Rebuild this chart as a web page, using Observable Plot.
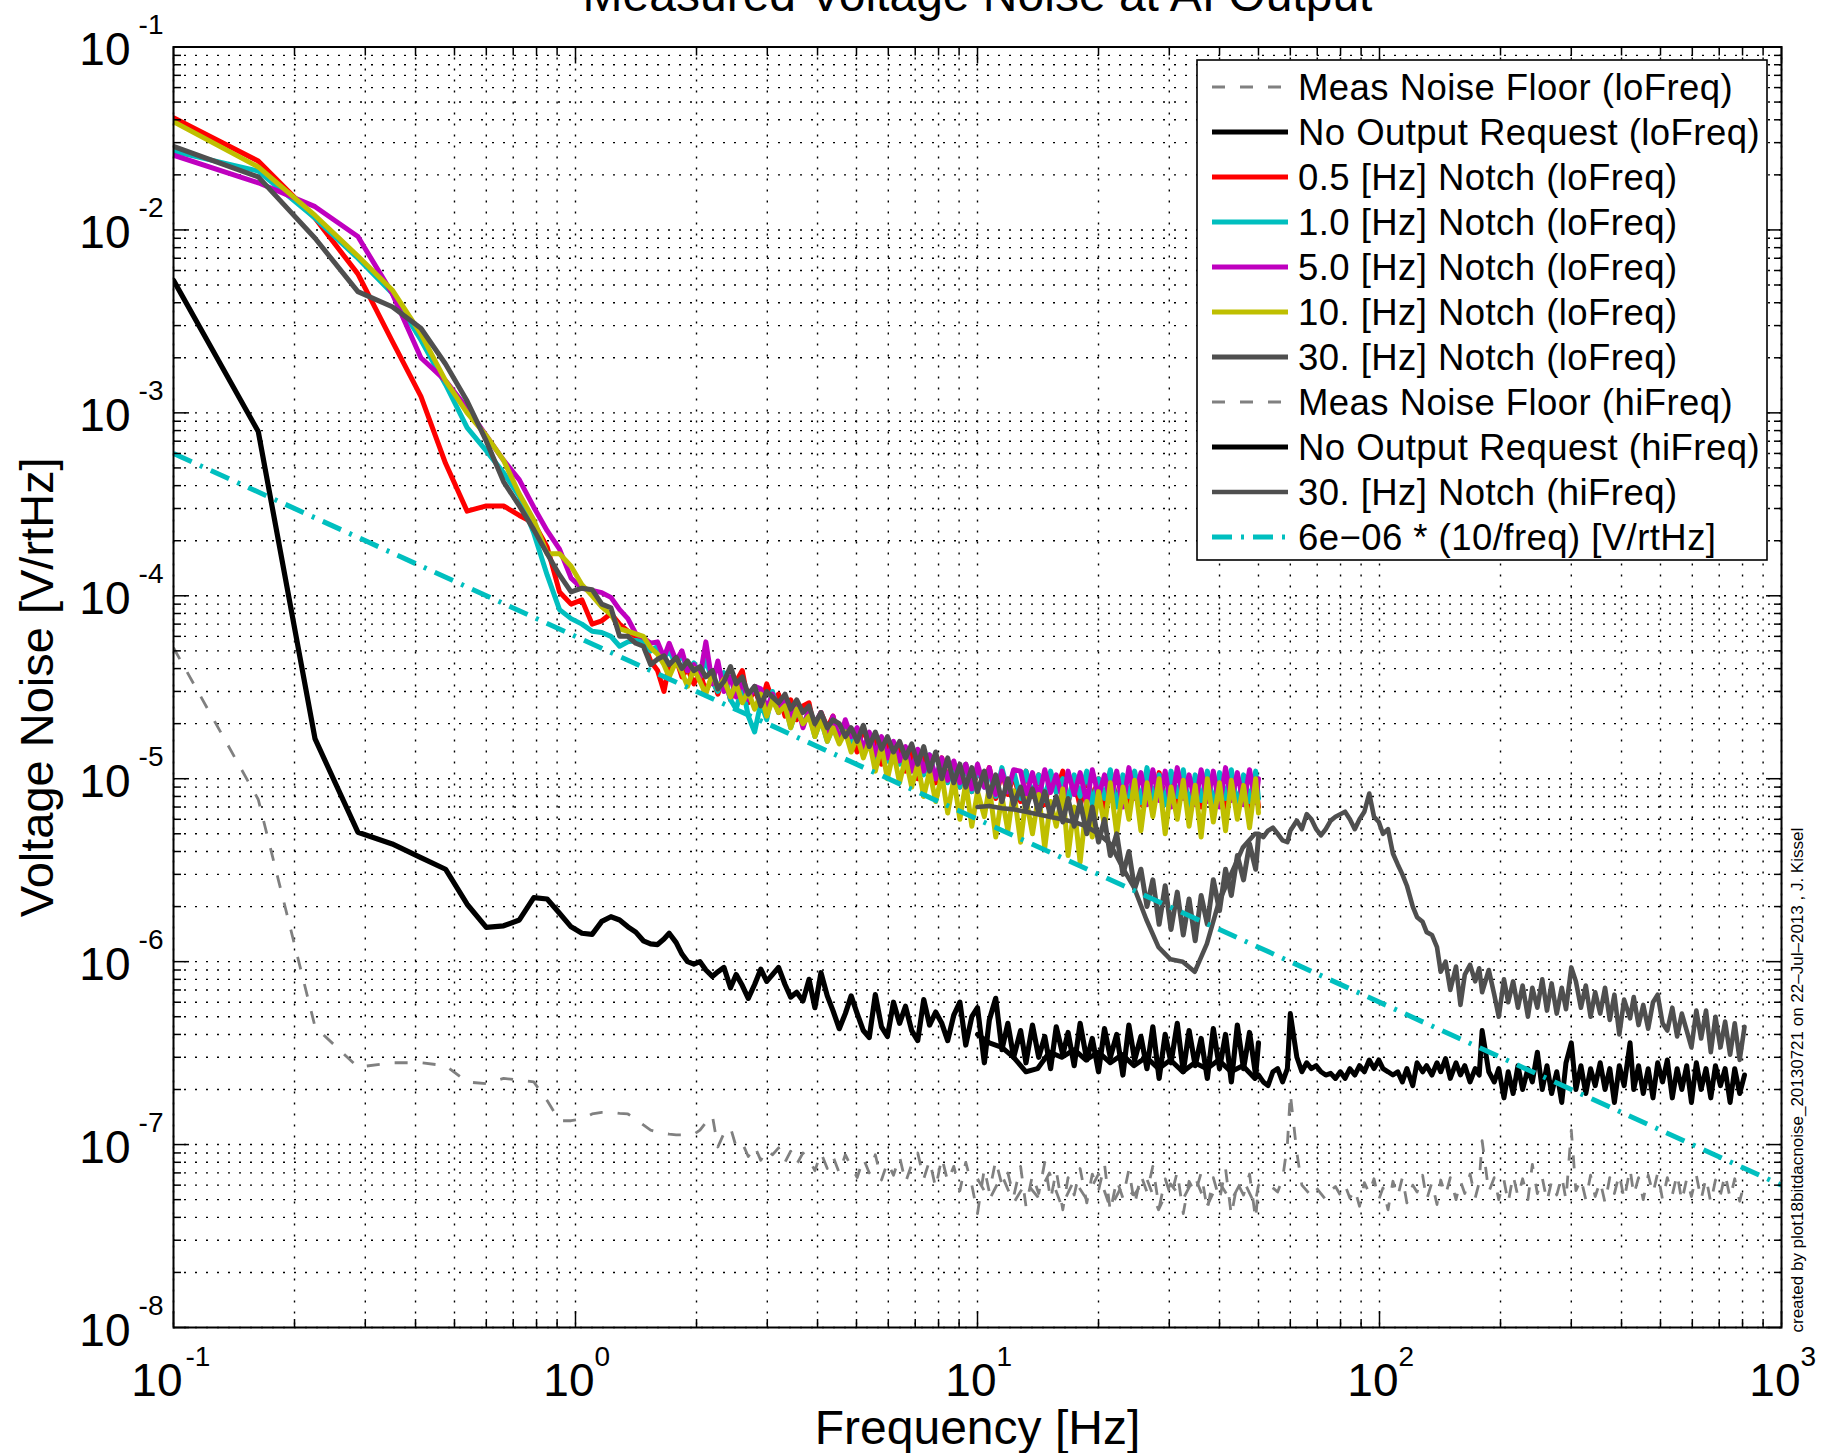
<!DOCTYPE html>
<html>
<head>
<meta charset="utf-8">
<script src="https://cdn.jsdelivr.net/npm/d3@7"></script>
<script src="https://cdn.jsdelivr.net/npm/@observablehq/plot@0.6"></script>
<style>
  html, body { margin: 0; padding: 0; background: #ffffff; }
</style>
</head>
<body>
<div id="chart"></div>
<script>
// ---------------- DATA ----------------
const freqLo = [0.1, 0.1625, 0.225, 0.2875, 0.35, 0.4125, 0.475, 0.5375, 0.6, 0.6625, 0.725, 0.7875, 0.85, 0.9125, 0.975, 1.0375, 1.1, 1.1625, 1.225, 1.2875, 1.35, 1.4125, 1.475, 1.5375,
  1.60, 1.66, 1.71, 1.78, 1.84, 1.90, 1.97, 2.04, 2.11, 2.19,
  2.26, 2.34, 2.43, 2.51, 2.60, 2.69, 2.79, 2.89, 2.99, 3.09,
  3.20, 3.32, 3.43, 3.55, 3.68, 3.81, 3.94, 4.08, 4.23, 4.37,
  4.53, 4.69, 4.85, 5.02, 5.20, 5.38, 5.57, 5.77, 5.97, 6.18,
  6.40, 6.62, 6.86, 7.10, 7.35, 7.60, 7.87, 8.15, 8.43, 8.73,
  9.04, 9.35, 9.68, 10.0, 10.4, 10.7, 11.1, 11.5, 11.9, 12.3,
  12.8, 13.2, 13.7, 14.2, 14.7, 15.2, 15.7, 16.3, 16.8, 17.4,
  18.0, 18.7, 19.3, 20.0, 20.7, 21.4, 22.2, 23.0, 23.8, 24.6,
  25.5, 26.4, 27.3, 28.3, 29.3, 30.3, 31.4, 32.5, 33.6, 34.8,
  36.0, 37.3, 38.6, 40.0, 41.4, 42.8, 44.3, 45.9, 47.5, 49.2, 50.0];

const floorLo = [5.2e-5, 7.7e-6, 4.4e-7, 2.65e-7, 2.8e-7, 2.8e-7, 2.7e-7, 2.2e-7, 2.15e-7, 2.3e-7, 2.25e-7, 2.2e-7, 1.74e-7, 1.35e-7, 1.35e-7, 1.38e-7, 1.47e-7, 1.5e-7, 1.5e-7, 1.48e-7, 1.47e-7, 1.38e-7, 1.28e-7, 1.2e-7,
  1.17e-7, 1.15e-7, 1.14e-7, 1.13e-7, 1.13e-7, 1.13e-7, 1.14e-7, 1.2e-7, 1.32e-7, 1.44e-7,
  9.7e-8, 1.15e-7, 1.24e-7, 9.7e-8, 1.02e-7, 8.6e-8, 9.8e-8, 8.2e-8, 9.4e-8, 8.8e-8,
  9.6e-8, 8.0e-8, 9.2e-8, 7.8e-8, 9.0e-8, 8.3e-8, 7.2e-8, 9.0e-8, 7.4e-8, 8.6e-8,
  7.0e-8, 8.8e-8, 7.6e-8, 6.6e-8, 8.4e-8, 7.0e-8, 8.8e-8, 6.4e-8, 8.0e-8, 6.8e-8,
  8.6e-8, 6.2e-8, 7.8e-8, 9.0e-8, 6.5e-8, 8.2e-8, 5.8e-8, 8.5e-8, 6.3e-8, 7.6e-8,
  5.6e-8, 8.0e-8, 6.0e-8, 4.2e-8, 7.4e-8, 5.5e-8, 8.2e-8, 6.0e-8, 7.0e-8, 5.2e-8,
  7.6e-8, 4.6e-8, 6.8e-8, 5.4e-8, 8.0e-8, 5.0e-8, 7.2e-8, 4.4e-8, 6.6e-8, 5.3e-8,
  7.4e-8, 4.8e-8, 6.9e-8, 5.6e-8, 7.8e-8, 4.3e-8, 6.4e-8, 5.1e-8, 7.3e-8, 4.7e-8,
  6.8e-8, 5.5e-8, 7.6e-8, 4.5e-8, 6.5e-8, 5.2e-8, 7.1e-8, 4.2e-8, 6.3e-8, 5.4e-8,
  7.0e-8, 4.4e-8, 6.6e-8, 5.0e-8, 7.4e-8, 4.1e-8, 6.2e-8, 5.3e-8, 6.9e-8, 3.9e-8, 6.0e-8];

const blackLo = [5.3e-3, 7.9e-4, 1.65e-5, 5.1e-6, 4.4e-6, 3.7e-6, 3.2e-6, 2.06e-6, 1.54e-6, 1.57e-6, 1.69e-6, 2.24e-6, 2.2e-6, 1.84e-6, 1.55e-6, 1.43e-6, 1.41e-6, 1.66e-6, 1.76e-6, 1.69e-6, 1.55e-6, 1.45e-6, 1.3e-6, 1.25e-6,
  1.24e-6, 1.33e-6, 1.43e-6, 1.27e-6, 1.1e-6, 1.0e-6, 9.7e-7, 1.0e-6, 9.0e-7, 8.3e-7,
  8.8e-7, 9.3e-7, 7.2e-7, 8.5e-7, 7.4e-7, 6.3e-7, 7.5e-7, 9.1e-7, 7.8e-7, 8.5e-7,
  9.3e-7, 7.5e-7, 6.4e-7, 6.8e-7, 6.1e-7, 8.0e-7, 5.6e-7, 8.7e-7, 6.5e-7, 5.4e-7,
  4.3e-7, 5.2e-7, 6.5e-7, 5.2e-7, 4.2e-7, 3.85e-7, 6.6e-7, 4.4e-7, 3.9e-7, 6.0e-7,
  4.6e-7, 5.7e-7, 4.2e-7, 3.7e-7, 6.2e-7, 4.5e-7, 5.3e-7, 4.6e-7, 3.7e-7, 5.1e-7,
  6.0e-7, 3.5e-7, 5.0e-7, 5.6e-7, 2.8e-7, 4.8e-7, 6.3e-7, 3.3e-7, 4.6e-7, 3.0e-7,
  4.2e-7, 2.8e-7, 4.5e-7, 3.0e-7, 3.9e-7, 2.6e-7, 4.4e-7, 3.1e-7, 4.1e-7, 2.7e-7,
  4.6e-7, 2.9e-7, 3.8e-7, 2.5e-7, 4.3e-7, 3.0e-7, 4.0e-7, 2.4e-7, 4.5e-7, 2.9e-7,
  3.9e-7, 2.6e-7, 4.4e-7, 2.3e-7, 4.0e-7, 2.8e-7, 4.6e-7, 2.5e-7, 4.2e-7, 2.7e-7,
  3.8e-7, 2.3e-7, 4.3e-7, 2.6e-7, 4.0e-7, 2.2e-7, 4.5e-7, 2.6e-7, 4.1e-7, 2.4e-7, 3.6e-7];

const notch05 = [4.1e-2, 2.38e-2, 1.16e-2, 5.75e-3, 2.47e-3, 1.23e-3, 5.3e-4, 2.9e-4, 3.1e-4, 3.1e-4, 2.75e-4, 2.5e-4, 1.85e-4, 1.05e-4, 9.0e-5, 9.5e-5, 7.0e-5, 7.3e-5, 8.0e-5, 7.0e-5, 6.4e-5, 6.0e-5, 5.6e-5, 4.4e-5,
  3.9e-5, 3.0e-5, 4.2e-5, 4.5e-5, 3.6e-5, 4.0e-5, 3.3e-5, 3.8e-5, 3.0e-5, 3.6e-5,
  2.9e-5, 3.7e-5, 2.7e-5, 3.4e-5, 3.9e-5, 2.6e-5, 3.1e-5, 2.5e-5, 3.3e-5, 2.7e-5,
  2.9e-5, 2.2e-5, 2.7e-5, 2.1e-5, 2.5e-5, 2.6e-5, 1.8e-5, 2.3e-5, 1.9e-5, 2.2e-5,
  1.6e-5, 2.0e-5, 1.7e-5, 1.4e-5, 1.9e-5, 1.5e-5, 1.7e-5, 1.2e-5, 1.6e-5, 1.35e-5,
  1.5e-5, 1.1e-5, 1.4e-5, 1.0e-5, 1.3e-5, 1.15e-5, 9.5e-6, 1.3e-5, 1.0e-5, 1.2e-5,
  9.0e-6, 1.2e-5, 8.5e-6, 1.1e-5, 9.5e-6, 1.15e-5, 7.8e-6, 1.1e-5, 8.2e-6, 1.05e-5,
  7.5e-6, 1.1e-5, 8.0e-6, 1.05e-5, 7.2e-6, 1.0e-5, 8.5e-6, 1.1e-5, 7.4e-6, 9.8e-6,
  7.0e-6, 1.05e-5, 7.8e-6, 1.0e-5, 6.8e-6, 1.1e-5, 7.6e-6, 9.5e-6, 6.5e-6, 1.05e-5,
  7.2e-6, 1.0e-5, 6.6e-6, 1.08e-5, 7.5e-6, 9.6e-6, 6.9e-6, 1.05e-5, 6.0e-6, 1.0e-5,
  7.0e-6, 1.08e-5, 6.4e-6, 9.8e-6, 6.6e-6, 1.05e-5, 7.2e-6, 1.0e-5, 6.5e-6, 9.5e-6, 7.0e-6];

const notch10 = [2.69e-2, 2.1e-2, 1.16e-2, 7.0e-3, 4.5e-3, 2.5e-3, 1.43e-3, 8.3e-4, 6.2e-4, 4.7e-4, 3.5e-4, 2.2e-4, 1.3e-4, 8.4e-5, 7.5e-5, 7.0e-5, 6.4e-5, 6.3e-5, 6.0e-5, 5.3e-5, 5.6e-5, 5.7e-5, 5.6e-5, 5.0e-5,
  5.3e-5, 4.6e-5, 5.0e-5, 4.2e-5, 4.8e-5, 3.9e-5, 4.3e-5, 3.6e-5, 4.5e-5, 3.4e-5,
  3.0e-5, 3.8e-5, 2.7e-5, 2.4e-5, 3.2e-5, 2.2e-5, 1.8e-5, 2.6e-5, 2.1e-5, 3.0e-5,
  2.3e-5, 2.6e-5, 1.9e-5, 2.4e-5, 2.0e-5, 2.3e-5, 1.7e-5, 2.1e-5, 1.6e-5, 1.9e-5,
  1.7e-5, 2.0e-5, 1.5e-5, 1.8e-5, 1.4e-5, 1.7e-5, 1.3e-5, 1.6e-5, 1.25e-5, 1.5e-5,
  1.2e-5, 1.45e-5, 1.1e-5, 1.4e-5, 1.05e-5, 1.35e-5, 1.0e-5, 1.25e-5, 9.5e-6, 1.2e-5,
  9.0e-6, 1.2e-5, 8.5e-6, 1.15e-5, 9.0e-6, 1.1e-5, 8.0e-6, 1.15e-5, 8.5e-6, 1.1e-5,
  7.8e-6, 1.1e-5, 8.2e-6, 1.05e-5, 7.6e-6, 1.1e-5, 8.4e-6, 1.0e-5, 7.4e-6, 1.05e-5,
  8.0e-6, 1.1e-5, 7.2e-6, 1.0e-5, 7.8e-6, 1.12e-5, 7.0e-6, 1.05e-5, 8.0e-6, 1.1e-5,
  7.4e-6, 1.15e-5, 7.8e-6, 1.05e-5, 7.2e-6, 1.1e-5, 8.0e-6, 1.12e-5, 7.0e-6, 1.05e-5,
  7.6e-6, 1.1e-5, 7.2e-6, 1.08e-5, 7.8e-6, 1.12e-5, 7.0e-6, 1.05e-5, 7.5e-6, 1.1e-5, 7.8e-6];

const notch50 = [2.56e-2, 1.81e-2, 1.34e-2, 9.2e-3, 4.5e-3, 2.0e-3, 1.5e-3, 1.06e-3, 7.5e-4, 5.5e-4, 4.3e-4, 3.05e-4, 2.27e-4, 1.8e-4, 1.25e-4, 1.1e-4, 1.07e-4, 1.04e-4, 9.8e-5, 8.4e-5, 7.5e-5, 6.2e-5, 5.9e-5, 5.5e-5,
  5.6e-5, 4.6e-5, 5.5e-5, 4.4e-5, 5.0e-5, 3.9e-5, 4.2e-5, 3.6e-5, 5.6e-5, 3.3e-5,
  4.4e-5, 3.0e-5, 3.6e-5, 2.8e-5, 3.4e-5, 2.7e-5, 3.2e-5, 3.1e-5, 2.4e-5, 2.9e-5,
  2.3e-5, 2.8e-5, 2.1e-5, 2.6e-5, 1.9e-5, 2.4e-5, 2.0e-5, 2.3e-5, 1.7e-5, 2.2e-5,
  1.6e-5, 2.1e-5, 1.7e-5, 1.9e-5, 1.45e-5, 1.8e-5, 1.35e-5, 1.7e-5, 1.3e-5, 1.6e-5,
  1.25e-5, 1.5e-5, 1.1e-5, 1.45e-5, 1.1e-5, 1.35e-5, 1.0e-5, 1.3e-5, 9.8e-6, 1.25e-5,
  9.5e-6, 1.2e-5, 8.8e-6, 1.2e-5, 9.0e-6, 1.15e-5, 8.2e-6, 1.1e-5, 8.5e-6, 1.12e-5,
  1.1e-5, 8.0e-6, 1.08e-5, 7.8e-6, 1.12e-5, 8.4e-6, 1.05e-5, 7.6e-6, 1.1e-5, 8.2e-6,
  1.08e-5, 7.4e-6, 1.12e-5, 8.0e-6, 1.05e-5, 7.6e-6, 1.1e-5, 7.0e-6, 1.15e-5, 7.8e-6,
  1.08e-5, 7.2e-6, 1.12e-5, 7.6e-6, 1.1e-5, 7.0e-6, 1.15e-5, 7.8e-6, 1.05e-5, 7.2e-6,
  1.12e-5, 7.5e-6, 1.1e-5, 7.0e-6, 1.15e-5, 7.6e-6, 1.08e-5, 7.2e-6, 1.12e-5, 7.4e-6, 1.0e-5];

const notch100 = [3.91e-2, 2.21e-2, 1.2e-2, 7.2e-3, 4.7e-3, 2.7e-3, 1.5e-3, 1.0e-3, 7.5e-4, 5.5e-4, 3.6e-4, 2.6e-4, 1.7e-4, 1.7e-4, 1.45e-4, 1.15e-4, 1.0e-4, 8.7e-5, 7.9e-5, 6.6e-5, 6.4e-5, 6.2e-5, 6.0e-5, 5.2e-5,
  4.8e-5, 4.2e-5, 3.6e-5, 4.4e-5, 3.8e-5, 3.2e-5, 4.0e-5, 3.4e-5, 2.9e-5, 3.8e-5,
  3.1e-5, 3.5e-5, 2.8e-5, 3.3e-5, 2.6e-5, 3.0e-5, 2.4e-5, 2.9e-5, 2.2e-5, 2.7e-5,
  2.3e-5, 2.5e-5, 1.9e-5, 2.4e-5, 2.0e-5, 2.2e-5, 1.7e-5, 2.1e-5, 1.6e-5, 1.9e-5,
  1.55e-5, 1.8e-5, 1.4e-5, 1.7e-5, 1.3e-5, 1.6e-5, 1.1e-5, 1.5e-5, 1.0e-5, 1.4e-5,
  9.5e-6, 1.3e-5, 9.0e-6, 1.2e-5, 8.0e-6, 1.1e-5, 7.5e-6, 1.05e-5, 6.5e-6, 1.0e-5,
  6.0e-6, 9.5e-6, 5.5e-6, 8.5e-6, 6.2e-6, 9.0e-6, 4.8e-6, 8.0e-6, 5.2e-6, 8.6e-6,
  4.5e-6, 7.8e-6, 5.0e-6, 8.2e-6, 4.2e-6, 7.5e-6, 5.5e-6, 8.8e-6, 3.8e-6, 7.0e-6,
  3.5e-6, 7.5e-6, 4.8e-6, 8.5e-6, 5.5e-6, 9.5e-6, 5.0e-6, 9.0e-6, 6.0e-6, 9.8e-6,
  5.2e-6, 9.5e-6, 6.2e-6, 1.0e-5, 5.0e-6, 9.0e-6, 6.0e-6, 9.8e-6, 5.5e-6, 9.2e-6,
  4.8e-6, 1.0e-5, 5.8e-6, 9.5e-6, 5.2e-6, 9.8e-6, 6.0e-6, 9.2e-6, 5.4e-6, 1.0e-5, 6.5e-6];

const notch300Lo = [2.86e-2, 1.95e-2, 9.0e-3, 4.6e-3, 3.8e-3, 2.9e-3, 1.85e-3, 1.16e-3, 7.0e-4, 4.2e-4, 3.1e-4, 2.3e-4, 1.7e-4, 1.3e-4, 1.05e-4, 1.1e-4, 1.08e-4, 9.0e-5, 8.6e-5, 6.0e-5, 6.0e-5, 5.5e-5, 5.3e-5, 4.2e-5,
  4.5e-5, 4.7e-5, 4.2e-5, 4.6e-5, 4.0e-5, 4.4e-5, 3.9e-5, 4.1e-5, 3.6e-5, 3.9e-5,
  3.1e-5, 3.4e-5, 4.1e-5, 3.3e-5, 3.6e-5, 2.9e-5, 3.2e-5, 2.5e-5, 3.0e-5, 2.8e-5,
  2.6e-5, 2.9e-5, 2.4e-5, 2.7e-5, 2.3e-5, 2.5e-5, 2.0e-5, 2.3e-5, 1.9e-5, 2.1e-5,
  2.0e-5, 1.7e-5, 1.9e-5, 1.6e-5, 1.96e-5, 1.5e-5, 1.8e-5, 1.45e-5, 1.7e-5, 1.4e-5,
  1.6e-5, 1.3e-5, 1.55e-5, 1.2e-5, 1.5e-5, 1.1e-5, 1.4e-5, 1.0e-5, 1.3e-5, 9.5e-6,
  1.2e-5, 9.0e-6, 1.15e-5, 8.5e-6, 1.1e-5, 8.0e-6, 1.05e-5, 7.5e-6, 1.0e-5, 7.2e-6,
  9.0e-6, 6.8e-6, 8.8e-6, 6.5e-6, 8.5e-6, 6.2e-6, 8.0e-6, 5.8e-6, 7.8e-6, 5.5e-6,
  7.5e-6, 5.0e-6, 7.0e-6, 4.5e-6, 6.0e-6, 3.8e-6, 5.0e-6, 3.0e-6, 4.0e-6, 2.5e-6,
  3.2e-6, 2.0e-6, 2.8e-6, 1.6e-6, 2.6e-6, 1.5e-6, 2.4e-6, 1.4e-6, 2.2e-6, 1.3e-6,
  2.3e-6, 1.6e-6, 2.8e-6, 1.9e-6, 3.2e-6, 2.3e-6, 3.8e-6, 2.8e-6, 4.4e-6, 3.2e-6, 4.8e-6];

const freqHi = [10.0, 10.7, 11.5, 12.3, 13.2, 14.1, 15.1, 16.2, 17.4, 18.6, 20.0, 21.4, 22.9, 24.5, 26.3, 28.2, 30.2, 32.4, 34.7, 37.2, 39.8, 42.7, 45.7, 49.0,
  50.0, 51.4, 52.8, 54.3, 55.8, 57.4, 59.0, 60.0, 62.3, 64.1,
  65.9, 67.7, 69.6, 71.5, 73.5, 75.6, 77.7, 79.9, 82.1, 84.4,
  86.8, 89.2, 91.7, 94.3, 96.9, 99.6, 102, 105, 108, 111,
  114, 117, 121, 124, 128, 131, 135, 139, 142, 146,
  150, 155, 159, 163, 168, 173, 177, 180, 187, 193,
  198, 204, 209, 215, 221, 227, 234, 240, 247, 254,
  261, 268, 276, 284, 291, 300, 308, 317, 326, 335,
  344, 354, 364, 374, 384, 395, 406, 420, 429, 441,
  453, 466, 479, 492, 506, 520, 535, 550, 565, 581,
  597, 614, 631, 649, 667, 685, 705, 724, 745, 765,
  787, 809];

const floorHi = [6.5e-8, 5.0e-8, 6.8e-8, 4.8e-8, 6.2e-8, 5.2e-8, 7.0e-8, 4.6e-8, 6.4e-8, 5.1e-8, 6.9e-8, 4.5e-8, 6.0e-8, 5.3e-8, 6.6e-8, 4.4e-8, 6.1e-8, 5.0e-8, 6.7e-8, 4.6e-8, 6.3e-8, 4.9e-8, 6.5e-8, 4.7e-8,
  6.0e-8, 6.2e-8, 6.1e-8, 5.8e-8, 5.5e-8, 6.5e-8, 1.0e-7, 1.9e-7, 9.0e-8, 6.0e-8,
  5.6e-8, 5.2e-8, 5.8e-8, 5.4e-8, 5.0e-8, 5.6e-8, 5.9e-8, 5.3e-8, 6.0e-8, 5.1e-8,
  5.7e-8, 4.6e-8, 6.2e-8, 5.4e-8, 6.5e-8, 5.0e-8, 5.8e-8, 4.4e-8, 6.3e-8, 5.2e-8,
  6.6e-8, 4.8e-8, 6.0e-8, 5.5e-8, 6.8e-8, 5.0e-8, 6.2e-8, 4.7e-8, 6.4e-8, 5.3e-8,
  6.6e-8, 5.0e-8, 6.3e-8, 5.4e-8, 6.9e-8, 5.1e-8, 6.2e-8, 1.05e-7, 5.5e-8, 6.6e-8,
  5.0e-8, 6.4e-8, 4.8e-8, 6.8e-8, 5.2e-8, 6.5e-8, 5.0e-8, 7.8e-8, 5.4e-8, 6.6e-8,
  4.9e-8, 6.3e-8, 5.3e-8, 6.7e-8, 5.0e-8, 1.2e-7, 5.6e-8, 6.5e-8, 5.0e-8, 6.8e-8,
  5.2e-8, 6.3e-8, 4.8e-8, 6.6e-8, 5.4e-8, 6.9e-8, 5.0e-8, 7.4e-8, 5.3e-8, 6.6e-8,
  5.0e-8, 6.8e-8, 5.4e-8, 7.0e-8, 5.0e-8, 6.6e-8, 5.3e-8, 6.9e-8, 4.9e-8, 6.5e-8,
  5.2e-8, 6.8e-8, 5.0e-8, 6.6e-8, 4.8e-8, 6.4e-8, 5.3e-8, 6.9e-8, 5.1e-8, 6.5e-8,
  4.9e-8, 6.2e-8];

const blackHi = [4.0e-7, 3.6e-7, 3.4e-7, 3.0e-7, 2.5e-7, 2.6e-7, 3.2e-7, 3.0e-7, 3.3e-7, 2.9e-7, 3.2e-7, 2.8e-7, 3.1e-7, 2.7e-7, 3.0e-7, 2.6e-7, 2.9e-7, 2.5e-7, 2.8e-7, 2.6e-7, 2.9e-7, 2.5e-7, 2.7e-7, 2.3e-7,
  2.4e-7, 2.2e-7, 2.1e-7, 2.5e-7, 2.6e-7, 2.2e-7, 2.6e-7, 5.2e-7, 3.0e-7, 2.5e-7,
  2.8e-7, 2.6e-7, 2.7e-7, 2.5e-7, 2.4e-7, 2.45e-7, 2.3e-7, 2.5e-7, 2.3e-7, 2.6e-7,
  2.4e-7, 2.7e-7, 2.5e-7, 2.9e-7, 2.6e-7, 2.9e-7, 2.6e-7, 2.5e-7, 2.4e-7, 2.5e-7,
  2.2e-7, 2.6e-7, 2.1e-7, 2.8e-7, 2.5e-7, 2.7e-7, 2.4e-7, 2.8e-7, 2.5e-7, 2.95e-7,
  2.3e-7, 2.8e-7, 2.4e-7, 2.7e-7, 2.2e-7, 2.6e-7, 2.4e-7, 4.2e-7, 2.5e-7, 2.2e-7,
  2.6e-7, 1.8e-7, 2.5e-7, 1.9e-7, 2.7e-7, 2.0e-7, 2.6e-7, 2.2e-7, 3.2e-7, 2.0e-7,
  2.7e-7, 1.9e-7, 2.5e-7, 1.7e-7, 2.8e-7, 3.6e-7, 2.0e-7, 2.7e-7, 1.9e-7, 2.6e-7,
  2.1e-7, 2.8e-7, 2.0e-7, 2.6e-7, 1.7e-7, 2.7e-7, 2.1e-7, 3.6e-7, 2.0e-7, 2.7e-7,
  1.9e-7, 2.6e-7, 1.8e-7, 2.8e-7, 2.2e-7, 2.9e-7, 1.8e-7, 2.6e-7, 2.0e-7, 2.7e-7,
  1.7e-7, 2.8e-7, 2.0e-7, 2.6e-7, 1.8e-7, 2.7e-7, 2.1e-7, 2.6e-7, 1.7e-7, 2.6e-7,
  1.9e-7, 2.4e-7];

const notch300Hi = [7.0e-6, 7.1e-6, 6.9e-6, 6.8e-6, 6.6e-6, 6.4e-6, 6.2e-6, 6.0e-6, 5.8e-6, 5.5e-6, 5.0e-6, 4.4e-6, 3.3e-6, 2.55e-6, 1.7e-6, 1.2e-6, 1.03e-6, 1.0e-6, 8.8e-7, 1.25e-6, 2.1e-6, 3.0e-6, 4.2e-6, 5.0e-6,
  5.0e-6, 4.8e-6, 5.2e-6, 5.4e-6, 5.0e-6, 4.6e-6, 4.5e-6, 5.2e-6, 5.9e-6, 5.3e-6,
  6.4e-6, 6.0e-6, 5.3e-6, 4.9e-6, 5.3e-6, 5.9e-6, 6.2e-6, 6.4e-6, 6.6e-6, 6.0e-6,
  5.3e-6, 6.0e-6, 6.6e-6, 8.3e-6, 6.2e-6, 5.8e-6, 5.0e-6, 5.3e-6, 3.9e-6, 3.4e-6,
  3.0e-6, 2.6e-6, 2.0e-6, 1.75e-6, 1.65e-6, 1.45e-6, 1.4e-6, 1.2e-6, 8.8e-7, 1.0e-6,
  7.0e-7, 9.4e-7, 5.8e-7, 8.5e-7, 9.6e-7, 7.8e-7, 9.2e-7, 6.8e-7, 9.0e-7, 6.6e-7,
  5.0e-7, 8.0e-7, 6.0e-7, 7.8e-7, 5.6e-7, 7.4e-7, 5.0e-7, 7.2e-7, 5.6e-7, 8.0e-7,
  5.4e-7, 7.6e-7, 5.2e-7, 7.2e-7, 5.5e-7, 9.3e-7, 7.8e-7, 5.6e-7, 7.4e-7, 5.0e-7,
  6.8e-7, 5.2e-7, 7.2e-7, 4.8e-7, 6.6e-7, 4.0e-7, 6.2e-7, 4.9e-7, 6.4e-7, 4.5e-7,
  5.8e-7, 4.3e-7, 6.0e-7, 6.6e-7, 4.6e-7, 4.2e-7, 5.6e-7, 3.9e-7, 5.2e-7, 4.2e-7,
  3.4e-7, 5.4e-7, 3.8e-7, 5.4e-7, 3.2e-7, 5.0e-7, 3.4e-7, 4.7e-7, 3.1e-7, 4.6e-7,
  2.9e-7, 4.4e-7];

const refFreq = [0.1, 1000];
const refVal = [6e-4, 6e-8];

const legendLabels = [
  "Meas Noise Floor (loFreq)",
  "No Output Request (loFreq)",
  "0.5 [Hz] Notch (loFreq)",
  "1.0 [Hz] Notch (loFreq)",
  "5.0 [Hz] Notch (loFreq)",
  "10. [Hz] Notch (loFreq)",
  "30. [Hz] Notch (loFreq)",
  "Meas Noise Floor (hiFreq)",
  "No Output Request (hiFreq)",
  "30. [Hz] Notch (hiFreq)",
  "6e\u221206 * (10/freq) [V/rtHz]"
];

const xMajor = [0.1, 1, 10, 100, 1000];
const xExpLabels = ["-1", "0", "1", "2", "3"];
const yMajor = [1e-8, 1e-7, 1e-6, 1e-5, 1e-4, 1e-3, 1e-2, 1e-1];
const yExpLabels = ["-8", "-7", "-6", "-5", "-4", "-3", "-2", "-1"];

const titleText = "Measured Voltage Noise at AI Output";
const xTitle = "Frequency [Hz]";
const yTitle = "Voltage Noise [V/rtHz]";
const creditText = "created by plot18bitdacnoise_20130721 on 22\u2013Jul\u20132013 , J. Kissel";

// ---------------- BUILD ----------------
const FONT = "'Liberation Sans', Arial, Helvetica, sans-serif";
const rows = (fs, vs) => fs.map((f, i) => ({f, v: vs[i]}));

const series = [
  {f: freqLo, v: floorLo, stroke: "#808080", width: 2.8, dash: "13,15", cap: "butt"},
  {f: freqLo, v: blackLo, stroke: "#000000", width: 5.2},
  {f: freqLo, v: notch05, stroke: "#ff0000", width: 5.0},
  {f: freqLo, v: notch10, stroke: "#00bfbf", width: 5.0},
  {f: freqLo, v: notch50, stroke: "#bf00bf", width: 5.0},
  {f: freqLo, v: notch100, stroke: "#bfbf00", width: 5.0},
  {f: freqLo, v: notch300Lo, stroke: "#4f4f4f", width: 5.0},
  {f: freqHi, v: floorHi, stroke: "#808080", width: 2.8, dash: "13,15", cap: "butt"},
  {f: freqHi, v: blackHi, stroke: "#000000", width: 5.0},
  {f: freqHi, v: notch300Hi, stroke: "#4f4f4f", width: 4.6},
  {f: refFreq, v: refVal, stroke: "#00bfbf", width: 5.0, dash: "20,9,3,9", cap: "butt"}
].map((s, i) => ({...s, label: legendLabels[i]}));

const xMinor = [];
xMajor.forEach(m => { if (m < 1000) for (let k = 2; k <= 9; k++) xMinor.push(m * k); });
const yMinor = [];
yMajor.forEach(m => { if (m < 0.1) for (let k = 2; k <= 9; k++) yMinor.push(m * k); });
const xAll = [...xMajor, ...xMinor];
const yAll = [...yMajor, ...yMinor];

const xLab = xMajor.map((v, i) => ({v, e: xExpLabels[i]}));
const yLab = yMajor.map((v, i) => ({v, e: yExpLabels[i]}));
const xLabNeg = xLab.filter(d => d.e.startsWith("-"));
const xLabPos = xLab.filter(d => !d.e.startsWith("-"));

const gridStyle = {stroke: "#000", strokeOpacity: 1, strokeWidth: 1.4, strokeDasharray: "2,9"};
const tickAx = (data, anchor, size) => {
  const o = {anchor, tickSize: size, tickFormat: () => "", label: null, strokeWidth: 1.5};
  if (anchor === "bottom") o.dy = -size;
  if (anchor === "top") o.dy = size;
  if (anchor === "left") o.dx = size;
  if (anchor === "right") o.dx = -size;
  return anchor === "bottom" || anchor === "top" ? Plot.axisX(data, o) : Plot.axisY(data, o);
};

const marks = [
  Plot.gridX(xAll, gridStyle),
  Plot.gridY(yAll, gridStyle),
  ...series.map(s => Plot.line(rows(s.f, s.v), {
    x: "f", y: "v", stroke: s.stroke, strokeWidth: s.width,
    strokeDasharray: s.dash, strokeLinecap: s.cap || "round", strokeLinejoin: "round", clip: true
  })),
  tickAx(xMajor, "bottom", 16), tickAx(xMinor, "bottom", 8),
  tickAx(xMajor, "top", 16), tickAx(xMinor, "top", 8),
  tickAx(yMajor, "left", 16), tickAx(yMinor, "left", 8),
  tickAx(yMajor, "right", 16), tickAx(yMinor, "right", 8),
  Plot.frame({stroke: "#000", strokeWidth: 2}),
  // x tick labels 10^n
  Plot.text(xLabNeg, {x: "v", text: () => "10", frameAnchor: "bottom", textAnchor: "end", lineAnchor: "bottom", dx: 9, dy: 68, fontSize: 46}),
  Plot.text(xLabNeg, {x: "v", text: "e", frameAnchor: "bottom", textAnchor: "start", lineAnchor: "bottom", dx: 12, dy: 38, fontSize: 28}),
  Plot.text(xLabPos, {x: "v", text: () => "10", frameAnchor: "bottom", textAnchor: "end", lineAnchor: "bottom", dx: 19, dy: 68, fontSize: 46}),
  Plot.text(xLabPos, {x: "v", text: "e", frameAnchor: "bottom", textAnchor: "start", lineAnchor: "bottom", dx: 19, dy: 38, fontSize: 28}),
  // y tick labels
  Plot.text(yLab, {y: "v", text: () => "10", frameAnchor: "left", textAnchor: "end", lineAnchor: "bottom", dx: -43, dy: 18, fontSize: 46}),
  Plot.text(yLab, {y: "v", text: "e", frameAnchor: "left", textAnchor: "end", lineAnchor: "bottom", dx: -10, dy: -13, fontSize: 28}),
  // titles
  Plot.text([xTitle], {text: d => d, frameAnchor: "bottom", textAnchor: "middle", lineAnchor: "bottom", dy: 116, fontSize: 48}),
  Plot.text([yTitle], {text: d => d, frameAnchor: "left", textAnchor: "middle", rotate: -90, lineAnchor: "bottom", dx: -121, fontSize: 47}),
  Plot.text([titleText], {text: d => d, frameAnchor: "top", textAnchor: "middle", lineAnchor: "bottom", dy: -36.5, fontSize: 48}),
  Plot.text([creditText], {text: d => d, frameAnchor: "bottom-right", rotate: -90, textAnchor: "start", lineAnchor: "bottom", dx: 21, dy: 5, fontSize: 17})
];

const chart = Plot.plot({
  width: 1822,
  height: 1453,
  marginLeft: 173,
  marginRight: 41,
  marginTop: 46.5,
  marginBottom: 126,
  x: {type: "log", domain: [0.1, 1000]},
  y: {type: "log", domain: [1e-8, 1e-1]},
  style: {fontFamily: FONT, background: "#ffffff", color: "#000"},
  marks
});

// ---------------- LEGEND (inside the axes, top-right) ----------------
const svg = d3.select(chart);
const lg = svg.append("g").attr("font-family", FONT).attr("text-anchor", "start");
lg.append("rect").attr("x", 1197).attr("y", 60).attr("width", 570).attr("height", 500)
  .attr("fill", "#ffffff").attr("stroke", "#000").attr("stroke-width", 1.6);
series.forEach((s, i) => {
  const yb = 100 + 45 * i;
  lg.append("line").attr("x1", 1212).attr("x2", 1288).attr("y1", yb - 13).attr("y2", yb - 13)
    .attr("stroke", s.stroke).attr("stroke-width", s.width)
    .attr("stroke-dasharray", s.dash || null).attr("stroke-linecap", "butt");
  lg.append("text").attr("x", 1298).attr("y", yb).attr("font-size", 36.5)
    .attr("letter-spacing", "0.45px")
    .attr("text-anchor", "start").attr("fill", "#000").text(s.label);
});

document.getElementById("chart").appendChild(chart);
</script>
</body>
</html>
